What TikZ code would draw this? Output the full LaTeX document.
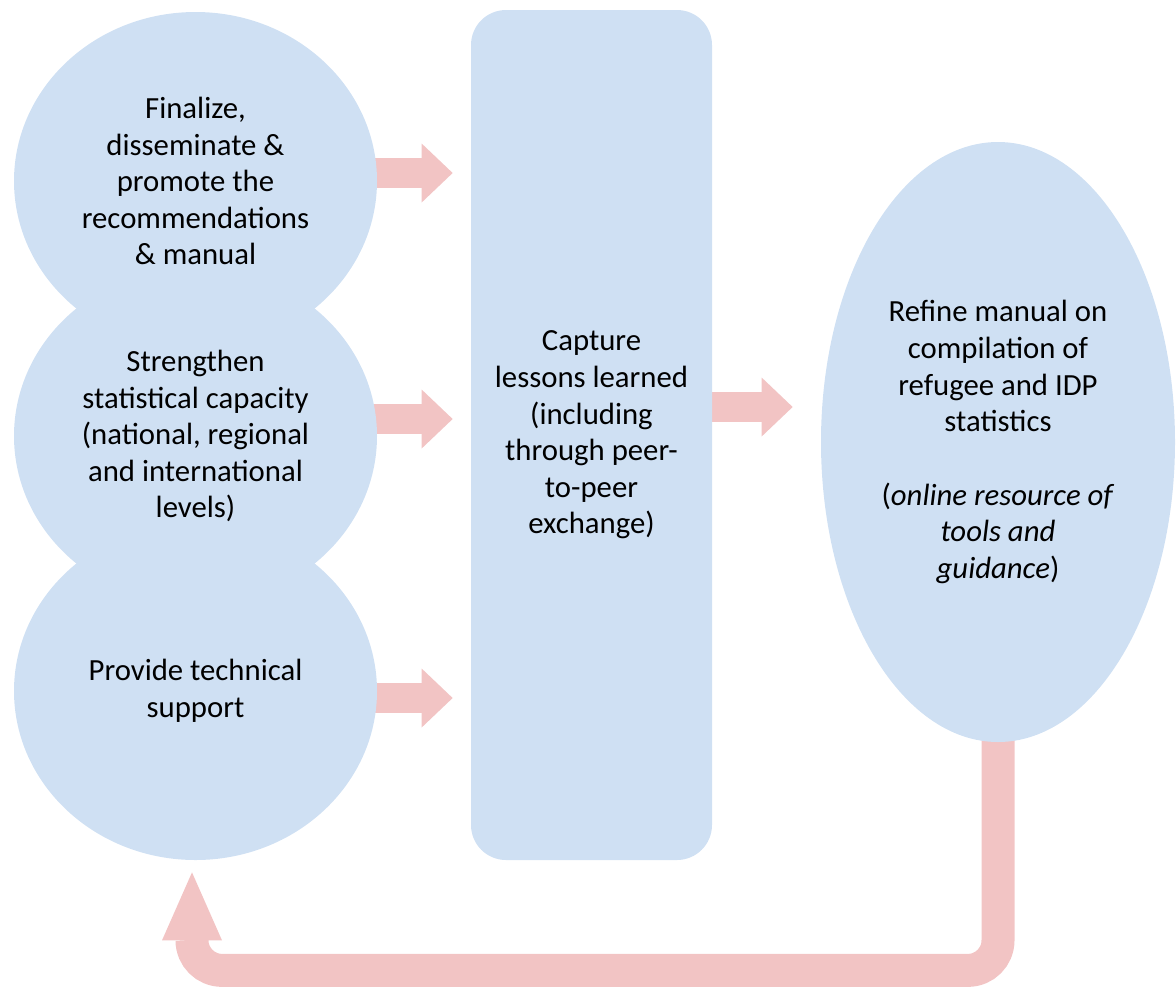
\documentclass[tikz,border=0pt]{standalone}
\usepackage{fontspec}
\setmainfont{Carlito}
\usepackage{xcolor}
\usetikzlibrary{shapes,arrows.meta,backgrounds}

\definecolor{softblue}{RGB}{207,224,243}
\definecolor{softpink}{RGB}{242,196,196}

\begin{document}
\begin{tikzpicture}[
    bubble/.style={ellipse, fill=softblue, minimum width=7.26cm, minimum height=6.76cm, inner sep=0pt, align=center, font=\fontsize{17.5}{20.8}\selectfont},
    panel/.style={rectangle, rounded corners=0.7cm, fill=softblue, minimum width=4.82cm, minimum height=17cm, align=center, font=\fontsize{17.5}{20.8}\selectfont},
    goal/.style={ellipse, fill=softblue, minimum width=7.08cm, minimum height=12cm, inner sep=0pt, align=center, font=\fontsize{17.5}{20.8}\selectfont},
    flow/.style={softpink, line width=0.6cm, -{Triangle[length=0.62cm, width=1.18cm, line width=0pt]}, shorten >=0.36cm, shorten <=-0.2cm},
    loopback/.style={softpink, line width=0.66cm, rounded corners=0.6cm, -{Triangle[length=1.36cm, width=1.2cm, line width=0pt]}, shorten >=0.24cm, shorten <=-0.2cm},
]
    \useasboundingbox (0,0) rectangle (23.52,-19.76);

    \node[bubble] (finalize) at (3.91,-3.62) {Finalize,\\disseminate \&\\promote the\\recommendations\\\& manual};
    \node[bubble] (strengthen) at (3.91,-8.72) {Strengthen\\statistical capacity\\(national, regional\\and international\\levels)};
    \node[bubble] (support) at (3.91,-13.82) {Provide technical\\support};
    \node[panel] (capture) at (11.83,-8.7) {Capture\\lessons learned\\(including\\through peer-\\to-peer\\exchange)};
    \node[goal] (refine) at (19.96,-8.84) {Refine manual on\\compilation of\\refugee and IDP\\statistics\\[0.74cm](\textit{online resource of}\\\textit{tools and}\\\textit{guidance})};

    \begin{pgfonlayer}{background}
    \draw[flow] ([yshift=0.16cm]finalize.east) -- ([yshift=0.16cm]finalize.east -| capture.west);
    \draw[flow] ([yshift=0.34cm]strengthen.east) -- ([yshift=0.34cm]strengthen.east -| capture.west);
    \draw[flow] ([yshift=-0.14cm]support.east) -- ([yshift=-0.14cm]support.east -| capture.west);
    \draw[flow, shorten >=0.56cm] ([yshift=0.56cm]capture.east) -- ([yshift=0.56cm]capture.east -| refine.west);
    \draw[loopback] (refine.south) -- ++(0,-4.56) -| ([xshift=-0.07cm]support.south);
    \end{pgfonlayer}
\end{tikzpicture}
\end{document}
